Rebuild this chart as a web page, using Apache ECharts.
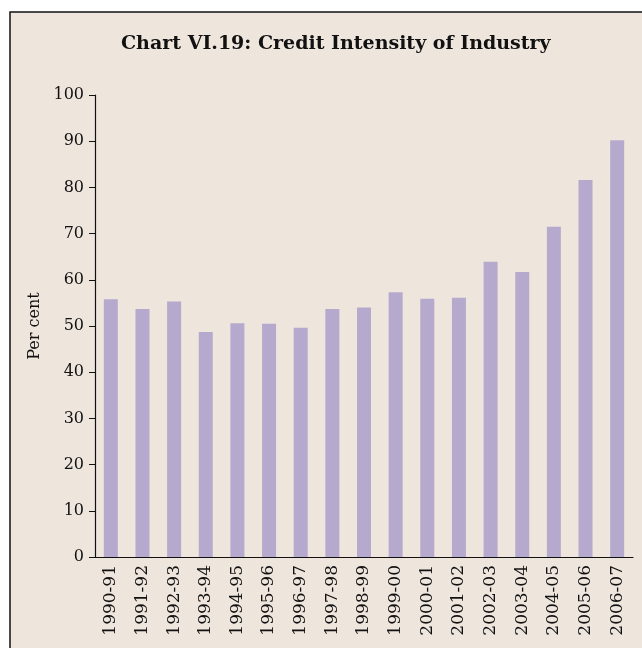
<!DOCTYPE html>
<html>
<head>
<meta charset="utf-8">
<script src="https://cdn.jsdelivr.net/npm/echarts@6/dist/echarts.min.js"></script>
<style>
    html, body { margin: 0; padding: 0; background: #ffffff; }
    #chart { width: 642px; height: 648px; }
</style>
</head>
<body>
<div id="chart"></div>
<script>
    /* 数据 */
    const years = ['1990-91', '1991-92', '1992-93', '1993-94', '1994-95', '1995-96', '1996-97', '1997-98', '1998-99',
        '1999-00', '2000-01', '2001-02', '2002-03', '2003-04', '2004-05', '2005-06', '2006-07']
    const intensity = [55.8, 53.7, 55.3, 48.7, 50.6, 50.5, 49.6, 53.7, 54.0,
        57.3, 55.9, 56.1, 63.9, 61.7, 71.5, 81.6, 90.2]
    const yTicks = [0, 10, 20, 30, 40, 50, 60, 70, 80, 90, 100]

    const serif = 'DejaVu Serif'
    const chart = echarts.init(document.getElementById('chart'))

    chart.setOption({
        backgroundColor: '#ffffff',
        animation: false,
        graphic: [{
            type: 'rect',
            z: -10,
            shape: { x: 10, y: 12, width: 700, height: 700 },
            style: { fill: '#eee5dd', stroke: '#111111', lineWidth: 1.5 }
        }],
        title: {
            text: 'Chart VI.19: Credit Intensity of Industry',
            left: 116,
            top: 30,
            textStyle: {
                fontFamily: serif,
                fontWeight: 'bold',
                fontSize: 19,
                color: '#111111'
            }
        },
        grid: {
            left: 95,
            right: 9,
            top: 95,
            bottom: 91
        },
        xAxis: {
            type: 'category',
            data: years,
            axisLine: { lineStyle: { color: '#111111', width: 1.2 } },
            axisTick: { length: 6, lineStyle: { color: '#111111' } },
            axisLabel: {
                rotate: 90,
                margin: 8,
                fontFamily: serif,
                fontSize: 17,
                color: '#111111'
            }
        },
        yAxis: {
            type: 'value',
            min: yTicks[0],
            max: yTicks[yTicks.length - 1],
            interval: 10,
            name: 'Per cent',
            nameLocation: 'middle',
            nameGap: 52,
            nameTextStyle: {
                fontFamily: serif,
                fontSize: 16,
                color: '#111111'
            },
            splitLine: { show: false },
            axisLine: { show: true, lineStyle: { color: '#111111', width: 1.2 } },
            axisTick: { show: true, length: 6, lineStyle: { color: '#111111' } },
            axisLabel: {
                margin: 11,
                fontFamily: serif,
                fontSize: 16,
                color: '#111111'
            }
        },
        series: [{
            type: 'bar',
            data: intensity,
            barWidth: 14,
            itemStyle: { color: '#b5aacd' }
        }]
    })
</script>
</body>
</html>
